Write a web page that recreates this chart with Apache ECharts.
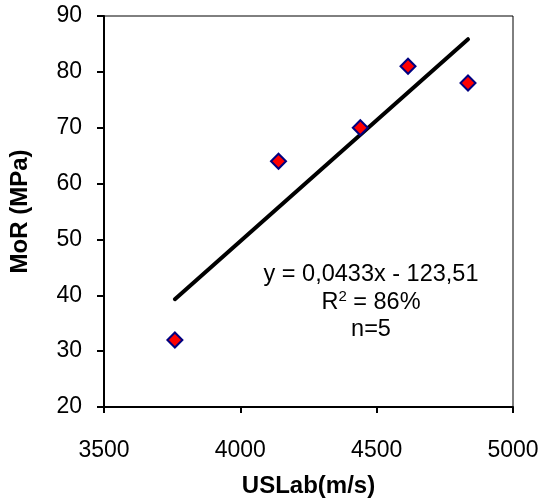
<!DOCTYPE html>
<html>
<head>
<meta charset="utf-8">
<script src="https://cdn.jsdelivr.net/npm/echarts@6/dist/echarts.min.js"></script>
<style>
  html, body { margin: 0; padding: 0; background: #fff; }
  #chart { width: 546px; height: 499px; }
</style>
</head>
<body>
<div id="chart"></div>
<script>
// Ultrasonic velocity (lab) vs modulus of rupture
const velocity = [3760, 4140, 4440, 4615, 4835];   // USLab (m/s)
const mor = [32, 64, 70, 81, 78];                  // MoR (MPa)

// Linear fit reported on the chart: y = 0,0433x - 123,51
const fitSlope = 0.0433;
const fitIntercept = -123.51;
const fitLabels = ['y = 0,0433x - 123,51', 'R2 = 86%', 'n=5'];

const xTicks = [3500, 4000, 4500, 5000];
const yTicks = [20, 30, 40, 50, 60, 70, 80, 90];

const font = '"Liberation Sans", Arial, sans-serif';
const points = velocity.map((v, i) => [v, mor[i]]);
const xMin = Math.min(...velocity), xMax = Math.max(...velocity);
const fitLine = [xMin, xMax].map(x => [x, fitSlope * x + fitIntercept]);

const chart = echarts.init(document.getElementById('chart'));
chart.setOption({
  animation: false,
  backgroundColor: '#fff',
  grid: {
    left: 104, right: 33, top: 16, bottom: 92,
    containLabel: false, outerBoundsMode: 'none',
    show: true, borderColor: '#000', borderWidth: 1
  },
  xAxis: {
    type: 'value',
    min: xTicks[0], max: xTicks[xTicks.length - 1], interval: 500,
    name: 'USLab(m/s)', nameLocation: 'middle', nameGap: 67,
    nameTextStyle: { fontFamily: font, fontSize: 24, fontWeight: 'bold', color: '#000' },
    axisLine: { lineStyle: { color: '#000', width: 2 } },
    axisTick: { inside: false, length: 6, lineStyle: { color: '#000', width: 2 } },
    axisLabel: { fontFamily: font, fontSize: 23, color: '#000', margin: 32, formatter: v => String(v) },
    splitLine: { show: false }
  },
  yAxis: {
    type: 'value',
    min: yTicks[0], max: yTicks[yTicks.length - 1], interval: 10,
    name: 'MoR (MPa)', nameLocation: 'middle', nameGap: 72,
    nameTextStyle: { fontFamily: font, fontSize: 24, fontWeight: 'bold', color: '#000' },
    axisLine: { lineStyle: { color: '#000', width: 2 } },
    axisTick: { inside: false, length: 7, lineStyle: { color: '#000', width: 2 } },
    axisLabel: { fontFamily: font, fontSize: 23, color: '#000', margin: 22, formatter: v => String(v) },
    splitLine: { show: false }
  },
  graphic: [
    {
      type: 'text', x: 371, y: 275,
      style: {
        text: fitLabels[0], fontFamily: font, fontSize: 23.5, fill: '#000',
        align: 'center', verticalAlign: 'middle'
      }
    },
    {
      type: 'text', x: 371, y: 303,
      style: {
        text: '{n|R}{s|2}{n| = 86%}',
        align: 'center', verticalAlign: 'middle',
        rich: {
          n: { fontFamily: font, fontSize: 23.5, fill: '#000' },
          s: { fontFamily: font, fontSize: 15, fill: '#000', padding: [0, 0, 12, 0] }
        }
      }
    },
    {
      type: 'text', x: 371, y: 330,
      style: {
        text: fitLabels[2], fontFamily: font, fontSize: 23.5, fill: '#000',
        align: 'center', verticalAlign: 'middle'
      }
    }
  ],
  series: [
    {
      type: 'line',
      data: fitLine,
      symbol: 'none',
      lineStyle: { color: '#000', width: 4, cap: 'round' },
      z: 2
    },
    {
      type: 'scatter',
      data: points,
      symbol: 'diamond',
      symbolSize: 15,
      itemStyle: { color: '#ff0000', borderColor: '#000080', borderWidth: 2, opacity: 1 },
      z: 3
    }
  ]
});
</script>
</body>
</html>
